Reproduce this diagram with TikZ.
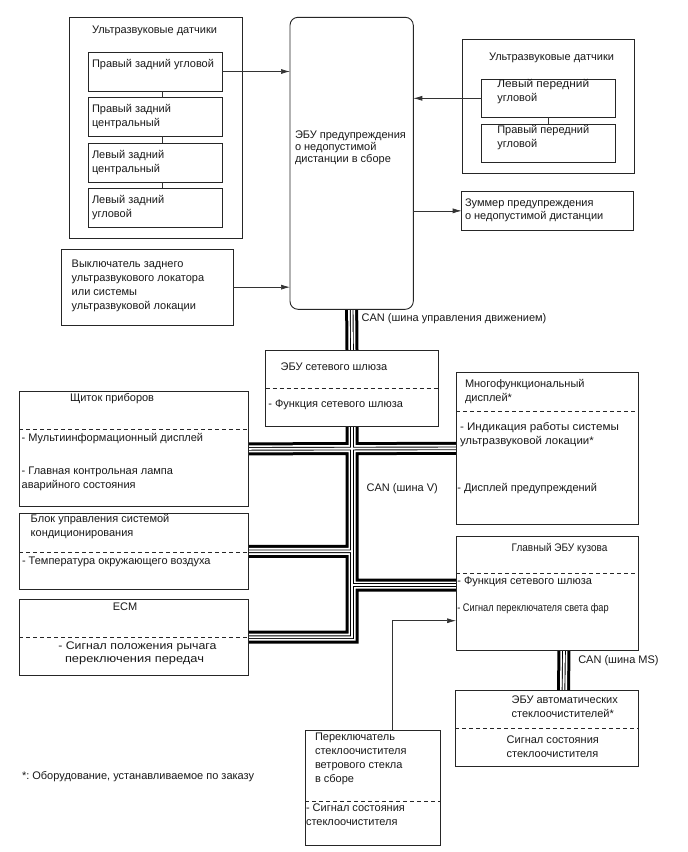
\documentclass[tikz,border=0pt]{standalone}
\usepackage{fontspec}
\usepackage{graphicx}
\setmainfont{Liberation Sans}
\frenchspacing
\usetikzlibrary{arrows.meta,backgrounds}
\newcommand\bx[6][]{\node[box,#1,anchor=north west,minimum width={(#5-#3)*1pt},minimum height={(#6-#4)*1pt}] (#2) at (#3,#4) {};}
\newcommand\hsc[2]{\scalebox{#1}[1]{#2}}
\begin{document}
\begin{tikzpicture}[x=1pt,y=-1pt,
 box/.style={draw=black!85, line width=0.9pt, fill=white, inner sep=0pt, outer sep=0pt},
 txt/.style={inner sep=0pt, outer sep=0pt, anchor=west, align=left, font=\fontsize{11}{14}\selectfont, text=black!90},
 dsh/.style={draw=black!85, line width=0.9pt, dash pattern=on 4pt off 3pt},
 link/.style={draw=black!80, line width=0.7pt},
 arr/.style={link, -{Latex[length=9pt,width=5pt]}},
 busA/.style={line width=13pt, draw=black, line cap=butt, line join=miter},
 busB/.style={line width=7pt, draw=white, line cap=butt, line join=miter},
 busC/.style={line width=3.6pt, draw=black, line cap=butt, line join=miter},
 busD/.style={line width=1.8pt, draw=white, line cap=butt, line join=miter}
]
\useasboundingbox (0,0) rectangle (688,852);
% boxes
\bx{lsg}{69}{17}{242}{238}
\bx{ls1}{88}{52}{222}{91}
\bx{ls2}{88}{97.7}{222}{136}
\bx{ls3}{88}{143}{222}{182}
\bx{ls4}{88}{188}{222}{227}
\bx[rounded corners=8pt]{ecu}{290}{17.3}{413.3}{309.3}
\bx{rsg}{462.7}{39.3}{634}{173.3}
\bx{rs1}{481.7}{79.3}{615}{117.3}
\bx{rs2}{481.7}{124.3}{615}{162.7}
\bx{buz}{461.7}{191.7}{633.3}{230}
\bx{sw}{61.7}{249.3}{233.3}{325}
\bx{gw}{265.7}{350}{438.3}{426}
\bx{ip}{19}{391.7}{248.3}{506}
\bx{md}{456}{372.7}{638}{524}
\bx{ac}{19}{513.3}{248.3}{589.3}
\bx{body}{456}{536}{638}{650}
\bx{ecm}{19}{599.3}{248.3}{675}
\bx{wip}{455}{690.7}{638}{766.7}
\bx{wsw}{305}{730}{440}{845}
% dashed separators
\draw[dsh] (gw.west |- 0,388.3) -- (gw.east |- 0,388.3);
\draw[dsh] (ip.west |- 0,429.3) -- (ip.east |- 0,429.3);
\draw[dsh] (md.west |- 0,411.7) -- (md.east |- 0,411.7);
\draw[dsh] (ac.west |- 0,552.7) -- (ac.east |- 0,552.7);
\draw[dsh] (body.west |- 0,573.3) -- (body.east |- 0,573.3);
\draw[dsh] (ecm.west |- 0,637.3) -- (ecm.east |- 0,637.3);
\draw[dsh] (wip.west |- 0,728.3) -- (wip.east |- 0,728.3);
\draw[dsh] (wsw.west |- 0,801.7) -- (wsw.east |- 0,801.7);
% texts
\node[txt] (lsg-t) at (92,31) {Ультразвуковые датчики};
\node[txt] (ls1-t) at (92,65) {Правый задний угловой};
\node[txt] (ls2-t) at (92,117) {Правый задний\\центральный};
\node[txt] (ls3-t) at (92,162.7) {Левый задний\\центральный};
\node[txt] (ls4-t) at (92,208) {Левый задний\\угловой};
\node[txt, font=\fontsize{11}{12}\selectfont] (ecu-t) at (295,148) {ЭБУ предупреждения\\о недопустимой\\дистанции в сборе};
\node[txt] (rsg-t) at (489,58.3) {Ультразвуковые датчики};
\node[txt] (rs1-t) at (497.3,92) {\hsc{1.08}{Левый передний}\\угловой};
\node[txt] (rs2-t) at (497.3,138) {Правый передний\\угловой};
\node[txt, font=\fontsize{11}{13.4}\selectfont] (buz-t) at (465,210) {Зуммер предупреждения\\о недопустимой дистанции};
\node[txt] (sw-t) at (71.7,286) {Выключатель заднего\\ультразвукового локатора\\или системы\\ультразвуковой локации};
\node[txt] (can1) at (361.7,318.3) {CAN (шина управления движением)};
\node[txt] (gw-t1) at (280.7,366.7) {ЭБУ сетевого шлюза};
\node[txt] (gw-t2) at (268.3,405) {- Функция сетевого шлюза};
\node[txt] (ip-t1) at (70,398.3) {Щиток приборов};
\node[txt] (ip-t2) at (21.7,438.3) {- Мультиинформационный дисплей};
\node[txt] (ip-t3) at (21.7,478.9) {- Главная контрольная лампа\\аварийного состояния};
\node[txt] (ac-t1) at (30.7,527) {Блок управления системой\\кондиционирования};
\node[txt] (ac-t2) at (22,561.7) {- Температура окружающего воздуха};
\node[txt, anchor=center] (ecm-t1) at (125,606.7) {ECM};
\node[txt] (ecm-t2) at (58.3,646.7) {\hsc{1.12}{- Сигнал положения рычага}};
\node[txt] (ecm-t3) at (65,661) {\hsc{1.17}{переключения передач}};
\node[txt] (md-t1) at (465,392) {Многофункциональный\\дисплей*};
\node[txt] (md-t2) at (460,435) {\hsc{1.06}{- Индикация работы системы}\\\hsc{1.04}{ультразвуковой локации*}};
\node[txt] (md-t3) at (457.3,488.3) {- Дисплей предупреждений};
\node[txt] (can2) at (366.7,488.3) {CAN (шина V)};
\node[txt] (body-t1) at (511.7,548.3) {\hsc{0.91}{Главный ЭБУ кузова}};
\node[txt] (body-t2) at (457.3,581.7) {- Функция сетевого шлюза};
\node[txt] (body-t3) at (457.3,608.3) {\hsc{0.84}{- Сигнал переключателя света фар}};
\node[txt] (can3) at (578.3,660.7) {CAN (шина MS)};
\node[txt] (wip-t1) at (511.7,706.3) {ЭБУ автоматических\\стеклоочистителей*};
\node[txt] (wip-t2) at (506.7,746.7) {Сигнал состояния\\стеклоочистителя};
\node[txt] (wsw-t1) at (315,759) {Переключатель\\стеклоочистителя\\ветрового стекла\\в сборе};
\node[txt] (wsw-t2) at (306,815) {- Сигнал состояния\\стеклоочистителя};
\node[txt] (note) at (22,777) {*: Оборудование, устанавливаемое по заказу};
% links
\draw[link] ([xshift=7.7pt]ls1.south) -- ([xshift=7.7pt]ls2.north);
\draw[link] ([xshift=7.7pt]ls2.south) -- ([xshift=7.7pt]ls3.north);
\draw[link] ([xshift=7.7pt]ls3.south) -- ([xshift=7.7pt]ls4.north);
\draw[link] (rs1.south) -- (rs2.north);
\draw[arr] (ls1.east) -- (ls1.east -| ecu.west);
\draw[arr] (rs1.west) -- (rs1.west -| ecu.east);
\draw[arr] (buz.west -| ecu.east) -- (buz.west);
\draw[arr] (sw.east) -- (sw.east -| ecu.west);
\draw[arr] ([xshift=20pt]wsw.north) |- ([yshift=-27.7pt]body.west);
% buses
\begin{scope}[on background layer]
\fill[white] (0,0) rectangle (688,852);
\foreach \s in {busA,busB,busC,busD}{
\draw[\s] (ecu.south) -- (gw.north)
 (gw.south) -- (gw.south |- ecm.east) -- (ecm.east)
 (ip.east) -- (md.west)
 (ac.east) -- (ac.east -| gw.south)
 ([yshift=8pt]body.west) -- ([yshift=8pt]body.west -| gw.south)
 ([xshift=17pt]body.south) -- ([xshift=17pt]wip.north);
}
\end{scope}
\end{tikzpicture}
\end{document}
